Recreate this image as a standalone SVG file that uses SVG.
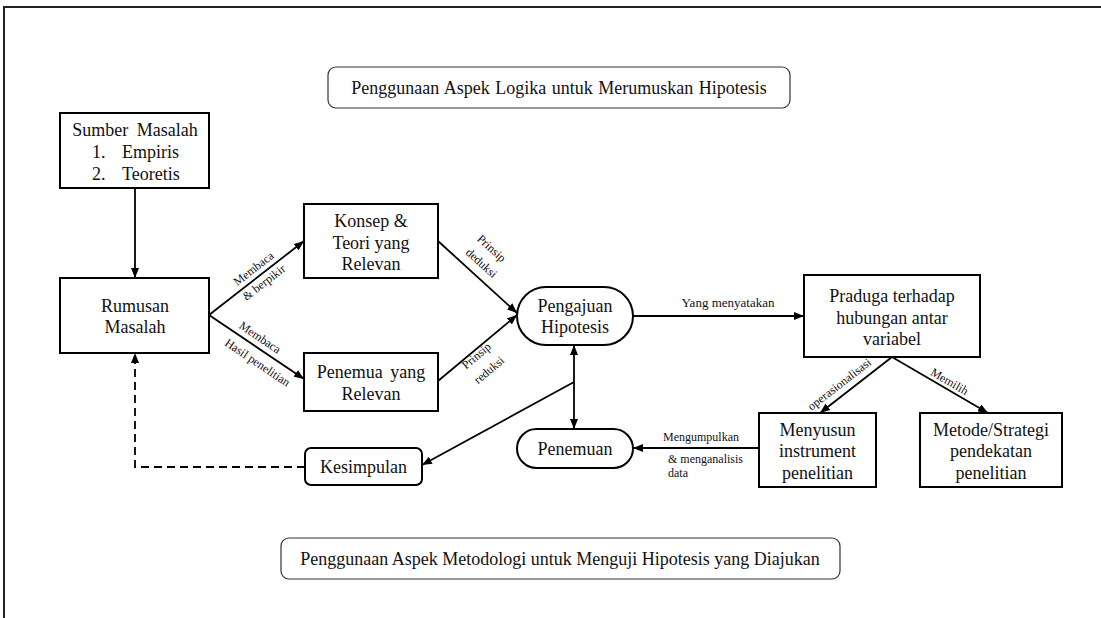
<svg xmlns="http://www.w3.org/2000/svg" width="1101" height="618" viewBox="0 0 1101 618">
<defs>
<marker id="ah" markerUnits="userSpaceOnUse" markerWidth="10" markerHeight="8" refX="10" refY="4" orient="auto-start-reverse">
<path d="M0,0 L10,4 L0,8 z" fill="#000"/>
</marker>
</defs>
<style>
text{font-family:'Liberation Serif','DejaVu Serif',serif;fill:#111}
.t{font-size:18px;text-anchor:middle}
.s{font-size:12px;text-anchor:middle}
.box{fill:#fff;stroke:#000;stroke-width:2}
.ttl{fill:#fff;stroke:#333;stroke-width:1.2}
.c{fill:none;stroke:#000;stroke-width:1.8}
</style>
<rect width="1101" height="618" fill="#fff"/>
<path d="M4,618 L4,7 L1101,7" fill="none" stroke="#222" stroke-width="2"/>

<g id="title-top">
<rect class="ttl" x="328" y="67" width="462" height="41" rx="8"/>
<text class="t" x="559" y="94" word-spacing="1">Penggunaan Aspek Logika untuk Merumuskan Hipotesis</text>
</g>
<g id="title-bottom">
<rect class="ttl" x="281" y="538" width="559" height="41" rx="8"/>
<text class="t" x="560" y="565">Penggunaan Aspek Metodologi untuk Menguji Hipotesis yang Diajukan</text>
</g>

<g id="sumber">
<rect class="box" x="60" y="113" width="149" height="75"/>
<text class="t" x="135" y="136" word-spacing="4">Sumber Masalah</text>
<text class="t" x="92" y="158" style="text-anchor:start">1.</text>
<text class="t" x="122" y="158" style="text-anchor:start">Empiris</text>
<text class="t" x="92" y="180" style="text-anchor:start">2.</text>
<text class="t" x="122" y="180" style="text-anchor:start">Teoretis</text>
</g>
<g id="rumusan">
<rect class="box" x="60" y="278" width="149" height="75"/>
<text class="t" x="135" y="312">Rumusan</text>
<text class="t" x="135" y="333">Masalah</text>
</g>
<g id="konsep">
<rect class="box" x="304" y="204" width="134" height="74"/>
<text class="t" x="371" y="227">Konsep &amp;</text>
<text class="t" x="371" y="249">Teori yang</text>
<text class="t" x="371" y="270">Relevan</text>
</g>
<g id="penemua">
<rect class="box" x="304" y="353" width="134" height="58"/>
<text class="t" x="371" y="378" word-spacing="3">Penemua yang</text>
<text class="t" x="371" y="400">Relevan</text>
</g>
<g id="pengajuan">
<rect class="box" x="517" y="287" width="116" height="58" rx="29"/>
<text class="t" x="575" y="312">Pengajuan</text>
<text class="t" x="575" y="333">Hipotesis</text>
</g>
<g id="praduga">
<rect class="box" x="804" y="275" width="176" height="82"/>
<text class="t" x="892" y="302">Praduga terhadap</text>
<text class="t" x="892" y="324">hubungan antar</text>
<text class="t" x="892" y="345">variabel</text>
</g>
<g id="menyusun">
<rect class="box" x="759" y="413" width="117" height="74"/>
<text class="t" x="817.5" y="436">Menyusun</text>
<text class="t" x="817.5" y="457">instrument</text>
<text class="t" x="817.5" y="479">penelitian</text>
</g>
<g id="metode">
<rect class="box" x="920" y="413" width="142" height="74"/>
<text class="t" x="991" y="436">Metode/Strategi</text>
<text class="t" x="991" y="457">pendekatan</text>
<text class="t" x="991" y="479">penelitian</text>
</g>
<g id="penemuan">
<rect class="box" x="517" y="429" width="116" height="39" rx="19.5"/>
<text class="t" x="575" y="455">Penemuan</text>
</g>
<g id="kesimpulan">
<rect class="box" x="305" y="448" width="117" height="37" rx="6"/>
<text class="t" x="363.5" y="473">Kesimpulan</text>
</g>

<g id="connectors">
<path class="c" d="M135,188 L135,278" marker-end="url(#ah)"/>
<path class="c" d="M209,315 L304,241" marker-end="url(#ah)"/>
<path class="c" d="M209,315 L304,379" marker-end="url(#ah)"/>
<path class="c" d="M438,241 L517,313" marker-end="url(#ah)"/>
<path class="c" d="M438,381 L517,315" marker-end="url(#ah)"/>
<path class="c" d="M633,316 L804,316" marker-end="url(#ah)"/>
<path class="c" d="M892,357 L820,413" marker-end="url(#ah)"/>
<path class="c" d="M892,357 L988,413" marker-end="url(#ah)"/>
<path class="c" d="M759,448 L633,448" marker-end="url(#ah)"/>
<path class="c" d="M574,345 L574,429" marker-start="url(#ah)" marker-end="url(#ah)"/>
<path class="c" d="M574,382 L422,465" marker-end="url(#ah)"/>
<path class="c" d="M305,467 L135,467 L135,353" stroke-dasharray="8,5" marker-end="url(#ah)"/>

<g transform="translate(253.5,268.5) rotate(-37.9)"><text class="s" y="4">Membaca</text></g>
<g transform="translate(264,282.5) rotate(-37.9)"><text class="s" y="4">&amp; berpikir</text></g>
<g transform="translate(260,337.5) rotate(34)"><text class="s" y="4">Membaca</text></g>
<g transform="translate(257.5,362.5) rotate(34)"><text class="s" y="4">Hasil penelitian</text></g>
<g transform="translate(491,249) rotate(42.3)"><text class="s" y="3">Prinsip</text></g>
<g transform="translate(481.5,263) rotate(42.3)"><text class="s" y="4">deduksi</text></g>
<g transform="translate(477,356.5) rotate(-40.2)"><text class="s" y="3">Prinsip</text></g>
<g transform="translate(489,370) rotate(-40.2)"><text class="s" y="4">reduksi</text></g>
<g transform="translate(840,385) rotate(-37.9)"><text class="s" y="3">operasionalisasi</text></g>
<g transform="translate(949.5,381.5) rotate(30.3)"><text class="s" y="4">Memilih</text></g>
<text class="s" x="728" y="307" style="font-size:13px">Yang menyatakan</text>
<text class="s" x="663" y="441" style="text-anchor:start">Mengumpulkan</text>
<text class="s" x="668" y="463" style="text-anchor:start">&amp; menganalisis</text>
<text class="s" x="668" y="477" style="text-anchor:start">data</text>
</g>
</svg>
